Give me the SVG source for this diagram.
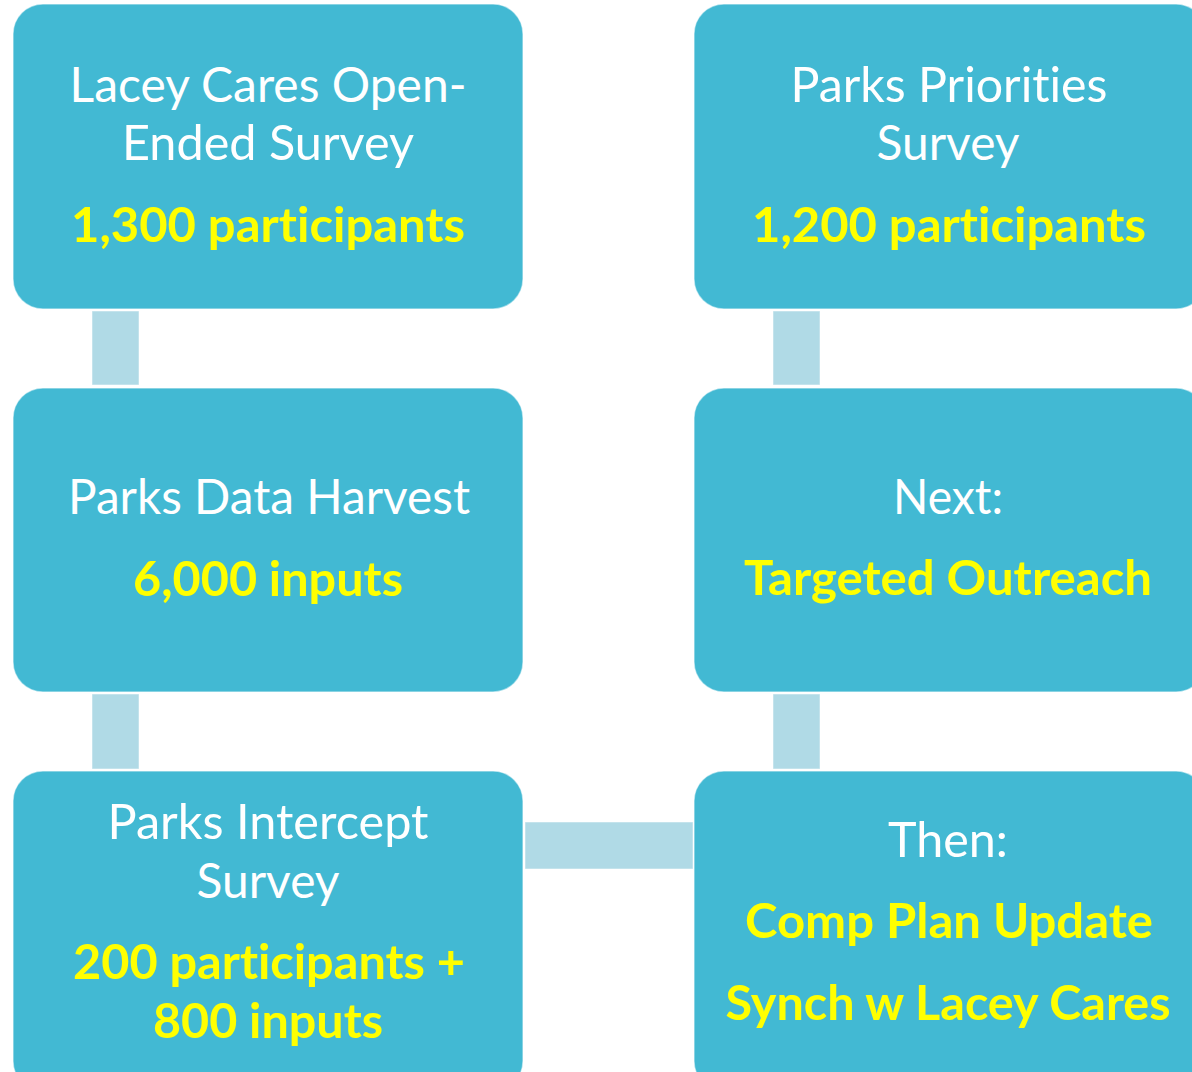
<svg xmlns="http://www.w3.org/2000/svg" width="1192" height="1072" viewBox="0 0 1192 1072">
<style>
.box{fill:#42B9D3;stroke:#ffffff;stroke-opacity:0.5;stroke-width:1.5}
.bar{fill:#B0DAE6;stroke:#ffffff;stroke-opacity:0.5;stroke-width:1}
text{font-family:Lato,"Open Sans","Liberation Sans",sans-serif;font-size:48px;text-anchor:middle;font-variant-ligatures:none;font-feature-settings:"liga" 0,"clig" 0}
.w{fill:#ffffff;font-weight:400}
.y{fill:#FFFF00;font-weight:700}
</style>
<rect width="1192" height="1072" fill="#ffffff"/>
<g id="connectors">
<rect class="bar" x="92" y="311" width="47" height="74"/>
<rect class="bar" x="92" y="694" width="47" height="75"/>
<rect class="bar" x="773" y="311" width="47" height="74"/>
<rect class="bar" x="773" y="694" width="47" height="75"/>
<rect class="bar" x="525" y="822" width="168" height="47"/>
</g>
<g id="lacey-cares">
<rect class="box" x="13" y="4" width="510" height="305" rx="30"/>
<text class="w" x="268" y="102" textLength="397" lengthAdjust="spacingAndGlyphs">Lacey Cares Open-</text>
<text class="w" x="268" y="160" textLength="292" lengthAdjust="spacingAndGlyphs">Ended Survey</text>
<text class="y" x="268" y="242" textLength="394" lengthAdjust="spacingAndGlyphs">1,300 participants</text>
</g>
<g id="data-harvest">
<rect class="box" x="13" y="388" width="510" height="304" rx="30"/>
<text class="w" x="269" y="514" textLength="402" lengthAdjust="spacingAndGlyphs">Parks Data Harvest</text>
<text class="y" x="268" y="596" textLength="270" lengthAdjust="spacingAndGlyphs">6,000 inputs</text>
</g>
<g id="intercept">
<rect class="box" x="13" y="771" width="510" height="320" rx="30"/>
<text class="w" x="268" y="839" textLength="321" lengthAdjust="spacingAndGlyphs">Parks Intercept</text>
<text class="w" x="268" y="898" textLength="143" lengthAdjust="spacingAndGlyphs">Survey</text>
<text class="y" x="269" y="979" textLength="392" lengthAdjust="spacingAndGlyphs">200 participants +</text>
<text class="y" x="268" y="1038" textLength="230" lengthAdjust="spacingAndGlyphs">800 inputs</text>
</g>
<g id="priorities">
<rect class="box" x="694" y="4" width="512" height="305" rx="30"/>
<text class="w" x="949" y="102" textLength="317" lengthAdjust="spacingAndGlyphs">Parks Priorities</text>
<text class="w" x="948" y="160" textLength="143" lengthAdjust="spacingAndGlyphs">Survey</text>
<text class="y" x="949" y="242" textLength="394" lengthAdjust="spacingAndGlyphs">1,200 participants</text>
</g>
<g id="next">
<rect class="box" x="694" y="388" width="512" height="304" rx="30"/>
<text class="w" x="948" y="514" textLength="110" lengthAdjust="spacingAndGlyphs">Next:</text>
<text class="y" x="948" y="595" textLength="408" lengthAdjust="spacingAndGlyphs">Targeted Outreach</text>
</g>
<g id="then">
<rect class="box" x="694" y="771" width="512" height="320" rx="30"/>
<text class="w" x="948" y="857" textLength="120" lengthAdjust="spacingAndGlyphs">Then:</text>
<text class="y" x="949" y="938" textLength="408" lengthAdjust="spacingAndGlyphs">Comp Plan Update</text>
<text class="y" x="948" y="1020" textLength="445" lengthAdjust="spacingAndGlyphs">Synch w Lacey Cares</text>
</g>
</svg>
